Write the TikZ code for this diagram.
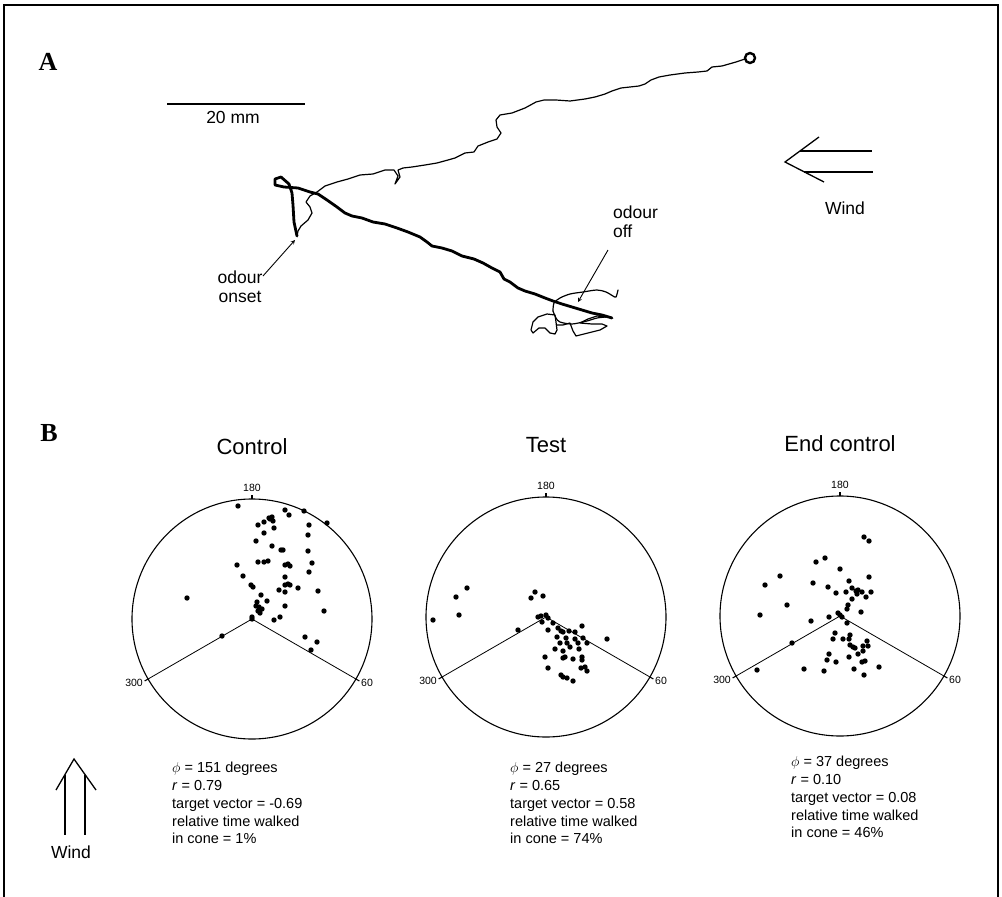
\documentclass[tikz,border=0pt]{standalone}
\usepackage{fontspec}
\setmainfont{Liberation Sans}
\newfontfamily\panelfont{Liberation Serif}
\usetikzlibrary{shapes,arrows,positioning,calc}

% circle with cone, ticks and title; #1 = name prefix, #2 = title
\newcommand{\rosering}[2]{%
  \draw[ring] (0,0) circle (120);
  \draw[cone] (150:120) -- (0,0) -- (30:120);
  \foreach \a in {-90,30,150} \draw[ring] (\a:120) -- (\a:124);
  \node[ticklbl] (#1-180) at (0,-131) {180};
  \node[ticklbl,anchor=east] (#1-300) at (-109,64) {300};
  \node[ticklbl,anchor=west] (#1-60) at (109,64) {60};
  \node[ttl] (#1-ttl) at (0,-172) {#2};}

\begin{document}
\begin{tikzpicture}[x=1pt,y=-1pt,
  ring/.style={line width=1.1pt},
  cone/.style={line width=0.8pt},
  track/.style={line width=1.2pt,line join=round,line cap=round},
  trackon/.style={line width=2.8pt,line join=round,line cap=round},
  lbl/.style={inner sep=0,font=\fontsize{17.5}{19}\selectfont},
  ttl/.style={inner sep=0,font=\fontsize{22}{24}\selectfont},
  ticklbl/.style={inner sep=0,font=\fontsize{10.5}{12}\selectfont},
  stats/.style={inner sep=0,anchor=north west,align=left,font=\fontsize{14.5}{17.8}\selectfont},
  panel/.style={inner sep=0,font=\panelfont\bfseries\fontsize{26}{28}\selectfont},
  windarrow/.style={line width=1.3pt}]
\useasboundingbox (0,0) rectangle (1002,897);
\fill[white] (0,0) rectangle (1002,897);

% frame
\draw[line width=1.6pt] (4,897) -- (4,5) -- (998,5) -- (998,897);

\node[panel] (labA) at (48,62) {A};
\node[panel] (labB) at (49,433) {B};

% ---------- A ----------
\draw[line width=1.2pt] (167,104) -- (305,104);
\node[lbl] (scalelbl) at (233,117) {20 mm};

\draw[line width=2.4pt] (750,58) circle (5);

% walk before odour
\draw[track] plot coordinates {(745,59) (736,62) (722,66) (712,67) (707,71) (698,72)
  (685,73) (670,75) (659,77) (651,80) (645,84) (639,86) (630,87) (621,88) (612,91)
  (605,94) (595,97) (585,99) (570,101) (556,100) (544,100) (536,102) (525,108)
  (512,113) (500,115) (496,120) (497,127) (501,133) (497,139) (488,142) (478,146)
  (474,152) (465,153) (455,158) (448,160) (437,163) (425,165) (412,167) (403,168)
  (398,170) (400,177) (395,184) (398,176) (394,170) (385,170) (373,174) (360,175)
  (348,179) (337,182) (325,186) (317,192) (310,196) (306,202) (310,207) (312,213)
  (308,220) (301,226) (298,231) (297,236)};

% walk in odour
\draw[trackon] plot coordinates {(297,236) (294,222) (293,205) (292,193) (289,184)
  (281,177) (275,179) (275,185) (284,187) (298,188) (310,192) (318,194) (327,200)
  (337,207) (345,213) (352,216) (362,218) (373,222) (385,224) (397,228) (408,232)
  (420,237) (427,242) (432,246) (442,248) (452,251) (462,256) (474,259) (483,263)
  (492,268) (500,272) (504,279) (510,282) (518,288) (525,291) (535,294) (545,298)
  (553,301) (562,304) (572,307) (582,310) (592,313) (602,315) (612,318)};

% search after odour off
\draw[track] plot[smooth,tension=0.5] coordinates {(553,311) (554,303) (560,298)
  (570,294) (583,292) (597,290) (606,292) (613,296) (616,297) (618,290)};
\draw[track] plot[smooth,tension=0.5] coordinates {(553,311) (556,318) (560,322)
  (572,324) (587,321) (597,318) (606,317)};
\draw[track] plot coordinates {(531,330) (533,322) (538,317) (547,314) (555,315)
  (556,322) (557,330) (555,334) (550,333) (545,328) (539,328) (533,333) (531,330)};
\draw[track] plot coordinates {(557,325) (563,325) (570,323) (573,331) (576,336)
  (588,333) (600,330) (607,326) (602,324) (592,324) (580,323) (588,319) (597,316)
  (606,317)};

% odour labels
\node[lbl,align=center] (onsetlbl) at (240,287) {odour\\onset};
\coordinate (onsettail) at (263,276);
\coordinate (onsettip) at (295,240);
\draw[line width=0.9pt,-stealth] (onsettail) -- (onsettip);

\node[lbl,align=left,anchor=west] (offlbl) at (613,222) {odour\\off};
\coordinate (offtail) at (608,250);
\coordinate (offtip) at (578,302);
\draw[line width=0.9pt,-stealth] (offtail) -- (offtip);

% wind, panel A
\draw[windarrow] (819,137) -- (785,162) -- (824,182);
\draw[windarrow] (800,151) -- (872,151);
\draw[windarrow] (804,172) -- (873,172);
\node[lbl] (windA) at (845,208) {Wind};

% ---------- B ----------
\begin{scope}[shift={(252,619)}]
\rosering{ctl}{Control}
\foreach \dx/\dy in {-14/-113, 33/-109, 37/-104, 52/-108, 75/-96, 6/-94, 12/-97,
  17/-101, 20/-102, 21/-98, 18/-100, 22/-91, 12/-86, 57/-94, 4/-78, 20/-73, 29/-69,
  31/-69, 56/-84, 56/-68, 6/-57, 12/-57, 16/-58, -15/-54, 33/-54, 36/-55, 38/-53,
  60/-56, 57/-47, -9/-43, 33/-42, -1/-34, 1/-32, 33/-34, 36/-35, 38/-34, 46/-31,
  27/-29, 33/-27, 66/-28, 9/-24, -65/-21, 5/-17, 15/-18, 4/-13, 7/-12, 10/-10,
  6/-8, 8/-6, 33/-13, 72/-8, 22/1, 28/-2, 0/-2, 0/0, -30/17, 53/18, 65/23, 59/31}
  \fill (\dx,\dy) circle (2.7);
\end{scope}

\begin{scope}[shift={(546,617)}]
\rosering{tst}{Test}
\foreach \dx/\dy in {-79/-29, -90/-20, -87/-2, -113/3, -11/-25, -15/-19, -3/-21,
  -8/0, -5/-1, 0/-2, 2/1, -4/5, 7/6, -28/13, 2/13, 12/11, 15/14, 17/15, 23/14,
  29/15, 36/9, 11/20, 20/21, 29/22, 37/21, 32/26, 41/26, 61/22, 14/26, 21/26,
  9/32, 17/34, 33/32, 24/30, 17/41, 19/40, 27/42, 36/40, 36/43, -1/40, 2/51,
  35/51, 39/50, 41/54, 15/58, 17/60, 21/61, 27/64}
  \fill (\dx,\dy) circle (2.7);
\end{scope}

\begin{scope}[shift={(840,616)}]
\rosering{end}{End control}
\foreach \dx/\dy in {24/-79, 29/-75, -24/-54, -15/-58, -60/-40, -75/-31, 0/-47,
  -27/-33, 9/-35, 29/-39, -12/-29, -4/-23, 6/-24, 12/-28, 16/-25, 18/-26, 22/-24,
  31/-24, 26/-19, 17/-22, 12/-17, 8/-11, 7/-7, 21/-4, -53/-11, -80/-1, -29/5,
  -11/1, -2/-3, 0/-1, 2/1, 7/7, -48/27, -5/17, -7/23, 3/23, 10/19, 9/23, 27/25,
  10/29, 13/31, 15/32, 23/30, 28/30, 23/35, 18/38, 9/41, -11/38, -13/44, -4/46,
  22/46, 25/45, -83/54, -36/53, -16/55, 14/53, 24/59, 39/51}
  \fill (\dx,\dy) circle (2.7);
\end{scope}

% statistics
\node[stats] (ctlstats) at (172,762) {$\phi$ = 151 degrees\\\textit{r} = 0.79\\target vector = -0.69\\relative time walked\\in cone = 1\%};
\node[stats] (tststats) at (510,762) {$\phi$ = 27 degrees\\\textit{r} = 0.65\\target vector = 0.58\\relative time walked\\in cone = 74\%};
\node[stats] (endstats) at (791,756) {$\phi$ = 37 degrees\\\textit{r} = 0.10\\target vector = 0.08\\relative time walked\\in cone = 46\%};

% wind, panel B
\draw[windarrow] (56,790) -- (74,759) -- (96,790);
\draw[windarrow] (65,775) -- (65,835);
\draw[windarrow] (85,775) -- (85,835);
\node[lbl] (windB) at (71,852) {Wind};
\end{tikzpicture}
\end{document}
